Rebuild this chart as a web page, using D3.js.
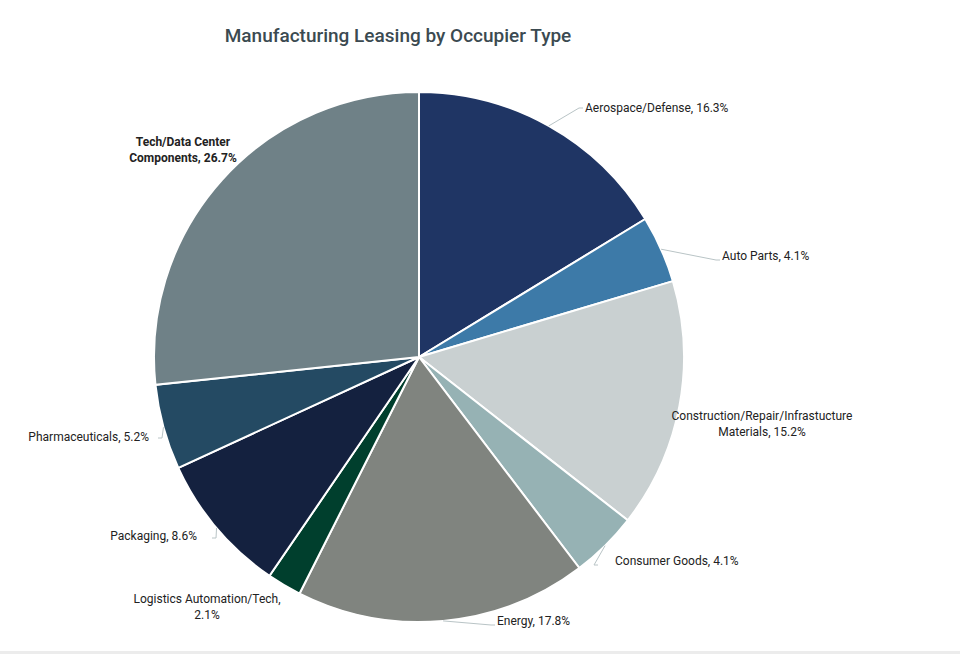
<!DOCTYPE html>
<html>
<head>
<meta charset="utf-8">
<script src="https://cdn.jsdelivr.net/npm/d3@7"></script>
<style>
  body { margin: 0; background: #fff; font-family: Roboto, "Noto Sans", sans-serif; }
</style>
</head>
<body>
<div id="chart"></div>
<script>
// Slice data, clockwise from 12 o'clock
const categories = ["Aerospace/Defense", "Auto Parts", "Construction/Repair/Infrastucture Materials",
  "Consumer Goods", "Energy", "Logistics Automation/Tech", "Packaging", "Pharmaceuticals",
  "Tech/Data Center Components"];
const shares = [16.3, 4.1, 15.2, 4.1, 17.8, 2.1, 8.6, 5.2, 26.7];
const colors = ["#1f3564", "#3d7aa8", "#c9d0d1", "#96b2b4", "#80847f", "#003f2d", "#14213f", "#244a63", "#6f8187"];

// Label placement (lines of text, position, anchor, leader end)
const labelLayout = [
  { lines: ["Aerospace/Defense, 16.3%"], x: 585, y: 112, anchor: "start", lx: 583, ly: 108 },
  { lines: ["Auto Parts, 4.1%"], x: 722, y: 260, anchor: "start", lx: 720, ly: 260 },
  { lines: ["Construction/Repair/Infrastucture", "Materials, 15.2%"], x: 762, y: 420, anchor: "middle" },
  { lines: ["Consumer Goods, 4.1%"], x: 615, y: 565, anchor: "start", lx: 598, ly: 565 },
  { lines: ["Energy, 17.8%"], x: 497, y: 625, anchor: "start", lx: 495, ly: 625 },
  { lines: ["Logistics Automation/Tech,", "2.1%"], x: 207, y: 603, anchor: "middle" },
  { lines: ["Packaging, 8.6%"], x: 197, y: 540, anchor: "end", lx: 212, ly: 538 },
  { lines: ["Pharmaceuticals, 5.2%"], x: 149, y: 441, anchor: "end", lx: 158, ly: 438 },
  { lines: ["Tech/Data Center", "Components, 26.7%"], x: 183, y: 146, anchor: "middle", bold: true }
];

const width = 960, height = 654;
const cx = 419, cy = 357, radius = 265;

const svg = d3.select("#chart").append("svg")
  .attr("width", width).attr("height", height);

svg.append("text")
  .attr("x", 398).attr("y", 42)
  .attr("text-anchor", "middle")
  .attr("font-size", "19px")
  .attr("font-weight", 500)
  .attr("fill", "#3b4a51")
  .text("Manufacturing Leasing by Occupier Type");

const data = categories.map((c, i) => ({ name: c, value: shares[i], color: colors[i], layout: labelLayout[i] }));

const pie = d3.pie().value(d => d.value).sort(null);
const arc = d3.arc().innerRadius(0).outerRadius(radius);
const edge = d3.arc().innerRadius(radius).outerRadius(radius);

const g = svg.append("g").attr("transform", `translate(${cx},${cy})`);
const arcs = pie(data);

g.selectAll("path.slice")
  .data(arcs)
  .enter().append("path")
  .attr("class", "slice")
  .attr("d", arc)
  .attr("fill", d => d.data.color)
  .attr("stroke", "#fff")
  .attr("stroke-width", 2);

// leader lines
arcs.forEach(d => {
  const L = d.data.layout;
  if (L.lx === undefined) return;
  const [ex, ey] = edge.centroid(d);
  svg.append("polyline")
    .attr("points", `${cx + ex},${cy + ey} ${L.lx - (L.anchor === "end" ? -4 : 4)},${L.ly} ${L.lx},${L.ly}`)
    .attr("fill", "none")
    .attr("stroke", "#b9c4c6")
    .attr("stroke-width", 1);
});

// labels
data.forEach(d => {
  const L = d.layout;
  const t = svg.append("text")
    .attr("text-anchor", L.anchor)
    .attr("font-size", "12px")
    .attr("font-weight", L.bold ? 700 : 400)
    .attr("fill", "#222");
  L.lines.forEach((s, i) => {
    t.append("tspan").attr("x", L.x).attr("y", L.y + i * 16).text(s);
  });
});

// bottom rule
svg.append("rect").attr("x", 0).attr("y", 651).attr("width", width).attr("height", 3).attr("fill", "#ececec");
</script>
</body>
</html>
